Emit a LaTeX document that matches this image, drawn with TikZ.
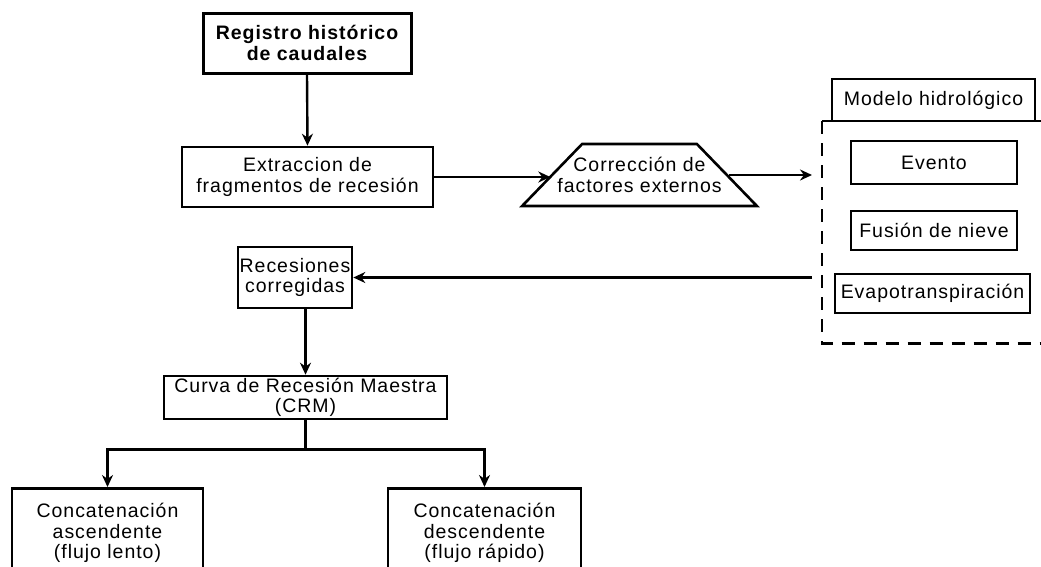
\documentclass[tikz,border=0pt]{standalone}
\usepackage{fontspec}
\setmainfont{Liberation Sans}[LetterSpace=5]
\usetikzlibrary{arrows.meta,positioning,shapes.geometric}

\begin{document}
\begin{tikzpicture}[x=1pt,y=-1pt,
  box/.style={draw, line width=2.6pt, align=center, inner sep=0pt,
    font=\fontsize{19.5}{20.5}\selectfont},
  flecha/.style={-{Stealth[length=12pt,width=11pt]}, line width=2.4pt},
  discont/.style={line width=2.6pt, dash pattern=on 13pt off 9pt}]
\useasboundingbox (0,0) rectangle (1041,566);
\clip (0,0) rectangle (1041,566);

\node[box, line width=3pt, minimum width=208pt, minimum height=60pt,
  font=\fontsize{19.5}{21}\selectfont\bfseries] (reg) at (307,43) {Registro histórico\\de caudales};
\node[box, minimum width=251pt, minimum height=60pt] (ext) at (307.5,177) {Extraccion de\\fragmentos de recesión};

% trapecio de correccion
\node[trapezium, draw, line width=2.6pt, trapezium left angle=62.4, trapezium right angle=62.4,
  trapezium stretches=true, minimum width=235pt, minimum height=62pt, inner sep=3pt] (corr) at (639.5,175) {};
\node[align=center, inner sep=0pt, font=\fontsize{19.5}{20.5}\selectfont] (corrtxt) at (corr) {Corrección de\\factores externos};

% modelo hidrologico
\node[inner sep=0pt, minimum width=240pt, minimum height=222pt, anchor=north west] (marco) at (822,121) {};
\draw[discont] (marco.north west) -- (marco.south west) -- (marco.south east);
\draw[line width=2.6pt] (marco.north west) -- (marco.north east);
\node[box, minimum width=203pt, minimum height=42pt] (modelo) at (933.5,100) {Modelo hidrológico};
\node[box, minimum width=166pt, minimum height=43pt] (evento) at (934,162.5) {Evento};
\node[box, minimum width=166pt, minimum height=39pt] (fusion) at (934,230.5) {Fusión de nieve};
\node[box, minimum width=195pt, minimum height=39pt] (evapo) at (932.5,293.5) {Evapotranspiración};

\node[box, minimum width=114pt, minimum height=61pt] (rec) at (295,277.5) {Recesiones\\corregidas};
\node[box, minimum width=283pt, minimum height=43pt] (curva) at (305.5,397.5) {Curva de Recesión Maestra\\(CRM)};
\node[box, minimum width=191pt, minimum height=90pt, anchor=north] (asc) at (107.5,487) {Concatenación\\ascendente\\(flujo lento)};
\node[box, minimum width=193pt, minimum height=90pt, anchor=north] (desc) at (484.5,487) {Concatenación\\descendente\\(flujo rápido)};

\draw[flecha] (reg.south) -- (ext.north);
\draw[flecha] (ext.east) -- (ext.east -| corr.west);
\draw[flecha, shorten >=10pt] (corr.east) -- (corr.east -| marco.west);
\draw[flecha, shorten <=10pt] (marco.west |- rec.east) -- (rec.east);
\draw[flecha] (curva.north |- rec.south) -- (curva.north);
\draw[flecha] (curva.south) -- ++(0,29) -| (asc.north);
\draw[flecha] (curva.south) -- ++(0,29) -| (desc.north);
\end{tikzpicture}
\end{document}
